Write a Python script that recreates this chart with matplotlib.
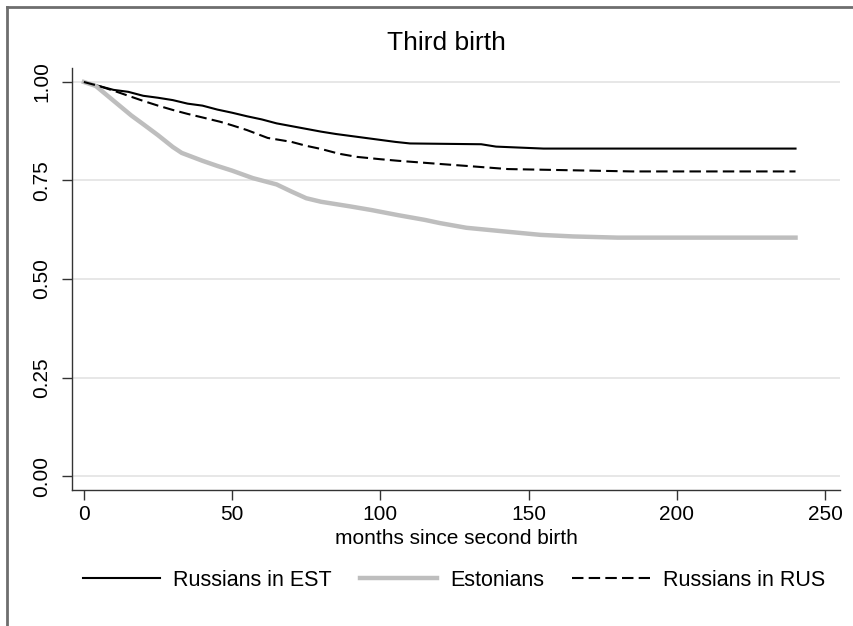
import matplotlib
matplotlib.use("Agg")
import matplotlib.pyplot as plt
from matplotlib.lines import Line2D

plt.rcParams["font.family"] = ["Liberation Sans", "DejaVu Sans"]

# Kaplan-Meier style survival estimates
est_rus_months = [0, 5, 10, 15, 20, 25, 30, 35, 40, 45, 50, 55, 60, 65, 70, 75, 80,
                  85, 90, 95, 100, 105, 110, 134, 139, 155, 240]
est_rus_surv = [1.0, 0.99, 0.98, 0.975, 0.965, 0.96, 0.954, 0.945, 0.94, 0.93, 0.922,
                0.913, 0.905, 0.895, 0.888, 0.881, 0.874, 0.868, 0.863, 0.858, 0.853,
                0.848, 0.844, 0.842, 0.836, 0.831, 0.831]

est_months = [0, 4, 8, 12, 16, 20, 25, 30, 33, 40, 45, 50, 57, 65, 70, 75, 80, 90,
              97, 106, 115, 120, 129, 140, 154, 165, 180, 240]
est_surv = [1.0, 0.99, 0.965, 0.94, 0.915, 0.893, 0.865, 0.835, 0.82, 0.8, 0.787,
            0.775, 0.756, 0.74, 0.722, 0.705, 0.696, 0.684, 0.675, 0.662, 0.65, 0.642,
            0.63, 0.622, 0.612, 0.608, 0.605, 0.605]

rus_months = [0, 5, 10, 15, 20, 25, 30, 35, 40, 46, 50, 55, 62, 70, 75, 80, 86, 92,
              100, 106, 120, 129, 143, 185, 240]
rus_surv = [1.0, 0.99, 0.978, 0.965, 0.952, 0.94, 0.929, 0.919, 0.91, 0.899, 0.89,
            0.878, 0.858, 0.848, 0.838, 0.83, 0.818, 0.81, 0.804, 0.8, 0.792, 0.787,
            0.779, 0.773, 0.773]

xticks = [0, 50, 100, 150, 200, 250]
yticks = [0.0, 0.25, 0.5, 0.75, 1.0]
ytick_labels = ["0.00", "0.25", "0.50", "0.75", "1.00"]

fig = plt.figure(figsize=(8.54, 6.26), dpi=100)
ax = fig.add_axes([72 / 854, 1 - 490 / 626, (840 - 72) / 854, (490 - 68) / 626])

for y in yticks:
    ax.axhline(y, color="#e3e3e3", lw=1.2, zorder=0)

ax.plot(est_rus_months, est_rus_surv, color="black", lw=1.5,
        label="Russians in EST")
ax.plot(est_months, est_surv, color="#bebebe", lw=3.2,
        label="Estonians")
ax.plot(rus_months, rus_surv, color="black", lw=1.5,
        dashes=(5.5, 2.5), label="Russians in RUS")

ax.set_xlim(-4, 255)
ax.set_ylim(-0.0355, 1.0355)
ax.set_xticks(xticks)
ax.set_yticks(yticks)
ax.set_yticklabels(ytick_labels, rotation=90, va="center")
ax.tick_params(axis="both", labelsize=15, length=7, width=1, color="#333333")
ax.tick_params(axis="y", pad=8)
ax.spines["top"].set_visible(False)
ax.spines["right"].set_visible(False)
for s in ["left", "bottom"]:
    ax.spines[s].set_color("#333333")
    ax.spines[s].set_linewidth(1)

ax.set_xlabel("months since second birth", fontsize=15, labelpad=4)
fig.text(446 / 854, 1 - 43 / 626, "Third birth", fontsize=19, ha="center", va="center")

fig.legend(loc="center", bbox_to_anchor=(454 / 854, 1 - 580 / 626), ncol=3,
           frameon=False, fontsize=15.5, handlelength=3.6, handletextpad=0.6,
           columnspacing=1.3)

# gray frame on top and left edge like the source image
fig.add_artist(Line2D([7 / 854, 1], [1 - 7 / 626, 1 - 7 / 626],
                      transform=fig.transFigure, color="#6e6e6e", lw=2))
fig.add_artist(Line2D([7 / 854, 7 / 854], [0, 1 - 7 / 626],
                      transform=fig.transFigure, color="#6e6e6e", lw=2))

fig.savefig("out.png", dpi=100)
